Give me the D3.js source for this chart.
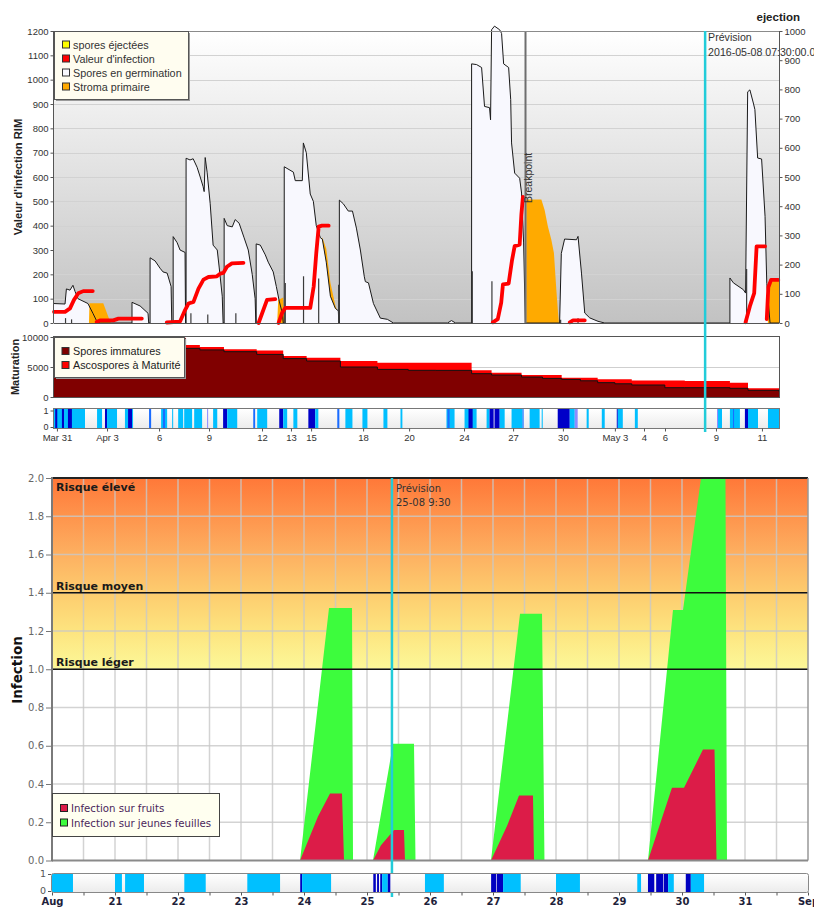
<!DOCTYPE html>
<html><head><meta charset="utf-8">
<script src="https://cdn.jsdelivr.net/npm/d3@7"></script>
<style>body{margin:0;background:#fff}svg{display:block}</style>
</head><body>
<svg id="chart" width="814" height="908"></svg>
<script>
// ================= DATA (top chart: days since Mar 31 00:00) =================
const topDomain = [-0.17, 41.93];
const topTickDays = [0, 2.91, 5.93, 8.83, 11.91, 13.59, 14.76, 17.78, 20.45, 23.64, 26.49, 29.38, 32.40, 34.09, 35.31, 38.27, 40.94];
const topTickLabels = ["Mar 31","Apr 3","6","9","12","13","15","18","20","24","27","30","May 3","4","6","9","11"];
const leftTicks = d3.range(0, 1201, 100);
const rightTicks = d3.range(0, 1001, 100);

const germination = [[-0.17,80],[0.47,78],[0.55,140],[0.76,135],[0.93,155],[1.05,130],[1.22,100],[1.80,80],[2.09,40],[2.33,5],[2.50,0],
[4.36,0],[4.36,85],[4.83,70],[5.29,40],[5.33,0],
[5.41,0],[5.41,268],[5.70,255],[5.99,225],[6.16,210],[6.40,205],[6.63,150],[6.67,0],
[6.75,0],[6.75,355],[6.98,330],[7.15,300],[7.44,290],[7.47,0],
[7.50,0],[7.50,677],[7.73,670],[7.91,675],[8.14,640],[8.32,600],[8.49,560],[8.55,540],[8.61,680],[8.72,620],[8.90,490],[9.07,320],[9.31,300],[9.42,230],[9.60,110],[9.65,0],
[9.71,0],[9.71,430],[9.89,400],[10.18,395],[10.35,425],[10.58,410],[10.87,350],[11.11,300],[11.34,200],[11.51,100],[11.55,0],
[11.57,0],[11.57,325],[11.81,320],[12.10,280],[12.27,250],[12.56,210],[12.74,150],[12.91,90],[13.09,40],[13.14,0],
[13.20,0],[13.20,642],[13.73,620],[13.84,585],[14.25,585],[14.31,740],[14.48,700],[14.71,530],[14.89,500],[15.06,400],[15.30,350],[15.41,345],[15.64,250],[15.88,110],[16.17,60],[16.34,50],[16.37,0],
[16.40,0],[16.40,505],[16.63,490],[16.92,460],[17.16,460],[17.39,390],[17.62,300],[17.85,190],[17.91,170],[18.09,165],[18.38,80],[18.78,20],[19.19,15],[19.54,0],
[22.68,0],[22.91,10],[23.15,0],
[24.08,0],[24.08,1065],[24.37,1062],[24.66,1050],[24.83,890],[25.12,885],[25.18,835],[25.24,1205],[25.41,1220],[25.71,1205],[25.82,1190],[25.94,1065],[26.23,1050],[26.35,918],[26.40,740],[26.58,616],[26.87,595],[26.98,534],[27.10,329],[27.20,0],
[29.19,0],[29.29,286],[29.48,345],[30.17,342],[30.26,356],[30.46,205],[30.65,41],[30.94,21],[31.42,7],[31.81,0],
[39.08,0],[39.08,185],[39.28,165],[39.86,137],[39.99,123],[40.11,950],[40.24,958],[40.44,904],[40.53,877],[40.69,678],[40.92,674],[41.12,438],[41.22,163],[41.41,0],[41.93,0]];

const valeurInfection = [[-0.17,46],[0.47,46],[0.76,60],[0.99,95],[1.24,122],[1.53,131],[2.08,131], null,
[2.31,4],[2.50,11],[3.27,11],[3.57,18],[4.93,18], null,
[6.38,2],[7.15,6],[7.44,53],[7.64,80],[7.93,87],[8.22,141],[8.51,178],[8.80,189],[9.29,192],[9.48,203],[9.67,206],[9.87,231],[10.16,245],[10.83,247], null,
[11.71,0],[12.20,95],[12.68,98], null,
[12.87,0],[13.07,41],[13.26,62],[14.71,62],[14.91,150],[15.06,287],[15.20,396],[15.39,400],[15.78,400], null,
[25.31,3],[25.60,16],[25.80,84],[25.90,159],[26.23,162],[26.42,255],[26.58,316],[26.87,322],[26.97,445],[27.06,518], null,
[29.78,3],[29.97,11],[30.65,11], null,
[39.99,3],[40.24,69],[40.49,123],[40.63,315],[41.12,315], null,
[41.22,16],[41.31,147],[41.47,177],[41.89,177]];

// [day, top, bottom]
const stromaPrimaire = [[1.86,0,0],[1.89,81,0],[2.69,81,0],[3.12,0,0], null,
[12.79,0,0],[12.85,95,0],[13.14,105,0],[13.20,0,0], null,
[15.41,352,345],[15.64,305,250],[15.88,165,110],[16.17,72,60],[16.25,55,52], null,
[27.26,0,0],[27.26,508,0],[28.13,508,0],[28.32,464,0],[28.51,397,0],[28.71,342,0],[28.86,288,0],[29.00,137,0],[29.10,41,0],[29.15,0,0], null,
[41.28,0,0],[41.40,170,0],[41.93,177,0]];

const sporesEjectees = [[0.50,20],[0.85,15],[7.78,40],[8.76,35],[10.39,40],[13.26,164],[14.32,192],[15.20,183],[16.36,157],[24.12,213],[25.26,172],[29.25,13],[30.26,20],[40.05,222]];

const breakpointDay = 27.21;
const previsionTopDay = 37.64;

const matDays   = [-0.17, 7.47, 8.3, 9.7, 11.6, 13.14, 14.5, 16.46, 18.61, 20.4, 22.0, 24.08, 25.24, 26.98, 28.2, 29.31, 30.4, 31.40, 32.4, 33.38, 35.3, 36.46, 39.08, 40.13, 41.93];
const matTotal  = [9880, 8660, 8330, 7950, 7770, 6830, 6550, 6000, 5720, 5720, 5720, 4440, 4050, 3660, 3660, 3220, 3220, 2940, 2940, 2770, 2770, 2660, 2390, 1440, 1440];
const matImmat  = [9700, 8110, 7850, 7550, 7100, 6400, 6000, 5000, 4600, 4450, 4440, 3890, 3660, 3330, 3100, 2940, 2700, 2390, 2200, 2000, 1550, 1550, 1450, 1110, 900];

// [start, end, level] level: 1 light, 2 medium, 3 dark, 4 violet
const wetTop = [[-0.17,1.63,1],[-0.10,0.02,3],[0.29,0.41,3],[0.64,0.87,3],
[2.33,2.62,1],[2.79,2.91,3],[2.91,3.49,1],[3.95,4.13,1],[4.13,4.36,3],[4.36,4.42,1],
[5.35,5.47,2],[6.05,6.40,1],[6.16,6.28,2],[6.69,6.75,1],[7.04,7.33,1],[7.39,7.85,1],[7.97,8.43,1],[8.72,8.78,4],
[9.07,9.31,1],[9.65,9.89,3],[9.89,10.47,1],[11.40,11.51,2],[11.63,12.21,1],[12.91,13.14,3],[13.14,13.37,1],
[13.73,13.96,1],[14.60,15.00,3],[15.00,15.18,1],[16.28,16.40,2],[16.75,17.16,1],[17.74,18.03,1],[18.96,19.19,1],[19.95,20.06,1],
[22.62,23.09,1],[22.68,22.80,2],[23.67,24.37,1],[23.90,24.14,3],[24.95,25.12,1],[25.12,25.36,3],[25.41,25.71,3],[25.71,26.00,1],
[26.40,27.04,1],[27.04,27.10,2],[27.45,28.03,1],[28.15,28.21,1],[29.08,29.78,3],[29.78,30.07,1],[30.07,30.24,4],
[30.76,30.88,1],[31.64,31.81,1],[32.51,32.57,3],[32.57,32.86,1],[33.56,33.73,1],[38.33,38.62,1],[38.33,38.39,4],
[39.08,39.66,1],[39.26,39.32,2],[39.95,40.13,3],[40.13,40.71,1],[41.29,41.93,1]];

// ================= DATA (bottom chart: days since Aug 20 00:00) =================
const botDomain = [0, 12];
const botTickLabels = ["Aug","21","22","23","24","25","26","27","28","29","30","31","Sep"];
const infTicks = d3.range(0, 2.01, 0.2);
const riskLevels = [1.0, 1.4];
const riskLabels = [["Risque élevé", 2.0], ["Risque moyen", 1.4], ["Risque léger", 1.0]];
const previsionBotDay = 5 + 9.5/24;

const jeunesFeuilles = [[3.937,0],[4.397,1.32],[4.762,1.32],[4.778,0],[5.095,0],[5.413,0.61],[5.746,0.61],[5.770,0],
[6.968,0],[7.429,1.29],[7.778,1.29],[7.817,0],[9.460,0],[9.857,1.31],[10.016,1.31],[10.302,2.0],[10.690,2.0],[10.714,0]];
const fruits = [[3.937,0],[4.222,0.23],[4.413,0.35],[4.603,0.35],[4.635,0],[5.095,0],[5.222,0.08],[5.429,0.16],[5.587,0.16],[5.603,0],
[6.968,0],[7.222,0.18],[7.413,0.34],[7.635,0.34],[7.651,0],[9.460,0],[9.841,0.38],[10.032,0.38],[10.333,0.58],[10.516,0.58],[10.548,0]];

const wetBot = [[0,0.333,1],[1.0,1.11,1],[1.16,1.46,1],[2.10,2.44,1],[3.10,3.62,1],[3.94,3.97,3],[3.97,4.43,1],
[5.10,5.14,3],[5.16,5.19,3],[5.21,5.24,3],[5.24,5.33,1],[5.33,5.37,3],[5.92,6.22,1],
[6.97,7.05,3],[7.06,7.16,3],[7.16,7.44,1],[8.0,8.38,1],[9.29,9.35,1],
[9.46,9.56,3],[9.59,9.70,3],[9.71,9.78,3],[9.78,9.87,1],[10.06,10.14,3],[10.14,10.35,1]];

// ================= DRAW =================
const svg = d3.select('#chart');
const defs = svg.append('defs');
const wetColor = d3.scaleOrdinal().domain([1,2,3,4]).range(['#00bfff','#1a6cff','#0000c8','#8c8cff']);
const F1 = '"Liberation Sans", Arial, sans-serif';
const F2 = '"DejaVu Sans", Verdana, sans-serif';
const intFmt = d3.format('d');

function styleAxis(g, font, size, color){
  g.selectAll('text').attr('font-family', font).attr('font-size', size).attr('fill', color);
  g.selectAll('line').attr('stroke', '#555');
  g.select('.domain').remove();
}

// ---------- TOP CHART ----------
const T = {l:54, r:779, t:31, b:323};
const xT = d3.scaleLinear().domain(topDomain).range([T.l, T.r]);
const yL = d3.scaleLinear().domain([0,1200]).range([T.b, T.t]);
const yR = d3.scaleLinear().domain([0,1000]).range([T.b, T.t]);

const gTop = defs.append('linearGradient').attr('id','gTop').attr('x1',0).attr('y1',0).attr('x2',0).attr('y2',1);
gTop.append('stop').attr('offset',0).attr('stop-color','#ffffff');
gTop.append('stop').attr('offset',1).attr('stop-color','#c2c2c2');
svg.append('rect').attr('x',T.l).attr('y',T.t).attr('width',T.r-T.l).attr('height',T.b-T.t).attr('fill','url(#gTop)');
svg.append('g').selectAll('line').data(leftTicks.slice(1)).join('line')
  .attr('x1',T.l).attr('x2',T.r).attr('y1',d=>Math.round(yL(d))+0.5).attr('y2',d=>Math.round(yL(d))+0.5)
  .attr('stroke','#d2d2d2');

const germArea = d3.area().x(d=>xT(d[0])).y0(yL(0)).y1(d=>yL(d[1]));
const germLine = d3.line().x(d=>xT(d[0])).y(d=>yL(d[1]));
svg.append('path').datum(germination).attr('d',germArea).attr('fill','#f8f8fe');
svg.append('path').datum(stromaPrimaire)
  .attr('d', d3.area().defined(d=>d).x(d=>xT(d[0])).y0(d=>yL(d[2])).y1(d=>yL(d[1])))
  .attr('fill','#ffaa00');
svg.append('path').datum(germination).attr('d',germLine).attr('fill','none').attr('stroke','#1a1a1a').attr('stroke-width',1);

svg.append('g').selectAll('line').data(sporesEjectees).join('line')
  .attr('x1',d=>xT(d[0])).attr('x2',d=>xT(d[0])).attr('y1',yL(0)).attr('y2',d=>yL(d[1]))
  .attr('stroke','#3a3a3a').attr('stroke-width',1.2);

svg.append('path').datum(valeurInfection)
  .attr('d', d3.line().defined(d=>d).x(d=>xT(d[0])).y(d=>yL(d[1])))
  .attr('fill','none').attr('stroke','#ff0000').attr('stroke-width',3.8)
  .attr('stroke-linejoin','round').attr('stroke-linecap','round');

// breakpoint
svg.append('line').attr('x1',xT(breakpointDay)).attr('x2',xT(breakpointDay)).attr('y1',T.t).attr('y2',T.b)
  .attr('stroke','#6e6e6e').attr('stroke-width',2);
svg.append('text').attr('transform',`translate(${xT(breakpointDay)+6},203) rotate(-90)`)
  .attr('font-family',F1).attr('font-size',10.5).attr('fill','#333').text('Breakpoint');

// frame
svg.append('line').attr('x1',T.l).attr('x2',T.r).attr('y1',T.t+0.5).attr('y2',T.t+0.5).attr('stroke','#8a8a8a');
svg.append('line').attr('x1',T.l).attr('x2',T.r).attr('y1',T.b+0.5).attr('y2',T.b+0.5).attr('stroke','#555');
svg.append('line').attr('x1',T.l-0.5).attr('x2',T.l-0.5).attr('y1',T.t).attr('y2',T.b).attr('stroke','#555');
svg.append('line').attr('x1',T.r+0.5).attr('x2',T.r+0.5).attr('y1',T.t).attr('y2',T.b).attr('stroke','#555');

const axL = svg.append('g').attr('transform',`translate(${T.l-0.5},0)`)
  .call(d3.axisLeft(yL).tickValues(leftTicks).tickFormat(intFmt).tickSize(3).tickPadding(2));
styleAxis(axL, F1, 9.5, '#333');
const axR = svg.append('g').attr('transform',`translate(${T.r+0.5},0)`)
  .call(d3.axisRight(yR).tickValues(rightTicks).tickFormat(intFmt).tickSize(3).tickPadding(2));
styleAxis(axR, F1, 9.5, '#333');

svg.append('text').attr('transform',`translate(22,${(T.t+T.b)/2}) rotate(-90)`).attr('text-anchor','middle')
  .attr('font-family',F1).attr('font-size',11.2).attr('font-weight','bold').attr('fill','#222').text("Valeur d'infection RIM");
svg.append('text').attr('x',800).attr('y',21).attr('text-anchor','end')
  .attr('font-family',F1).attr('font-size',11.5).attr('font-weight','bold').attr('fill','#222').text('ejection');

// legend top
const legTopItems = [["spores éjectées","#ffff00"],["Valeur d'infection","#ff0000"],["Spores en germination","#f8f8fe"],["Stroma primaire","#ffaa00"]];
svg.append('rect').attr('x',T.l+2).attr('y',T.t+2).attr('width',134).attr('height',68).attr('fill','#9a9a9a');
svg.append('rect').attr('x',T.l+0.5).attr('y',T.t+0.5).attr('width',134).attr('height',68).attr('fill','#fffdf0').attr('stroke','#555');
legTopItems.forEach((it,i)=>{
  const cy = 44.5 + i*14;
  svg.append('rect').attr('x',62.5).attr('y',cy-3.5).attr('width',7).attr('height',7).attr('fill',it[1]).attr('stroke','#333');
  svg.append('text').attr('x',73).attr('y',cy+4).attr('font-family',F1).attr('font-size',10.8).attr('fill','#333').text(it[0]);
});

// ---------- MATURATION ----------
const M = {t:337, b:397};
const yM = d3.scaleLinear().domain([0,10000]).range([M.b, M.t]);
const matData = matDays.map((d,i)=>({d, tot:matTotal[i], imm:matImmat[i]}));
svg.append('rect').attr('x',T.l).attr('y',M.t).attr('width',T.r-T.l).attr('height',M.b-M.t).attr('fill','#fff');
svg.append('line').attr('x1',T.l).attr('x2',T.r).attr('y1',yM(5000)+0.5).attr('y2',yM(5000)+0.5).attr('stroke','#cfcfcf');
svg.append('path').datum(matData).attr('d', d3.area().curve(d3.curveStepAfter).x(d=>xT(d.d)).y0(M.b).y1(d=>yM(d.tot))).attr('fill','#ff0000');
svg.append('path').datum(matData).attr('d', d3.area().curve(d3.curveStepAfter).x(d=>xT(d.d)).y0(M.b).y1(d=>yM(d.imm))).attr('fill','#800000');
svg.append('path').datum(matData).attr('d', d3.line().curve(d3.curveStepAfter).x(d=>xT(d.d)).y(d=>yM(d.imm))).attr('fill','none').attr('stroke','#111').attr('stroke-width',1);
svg.append('rect').attr('x',T.l-0.5).attr('y',M.t-0.5).attr('width',T.r-T.l+1).attr('height',M.b-M.t+1).attr('fill','none').attr('stroke','#555');
const axM = svg.append('g').attr('transform',`translate(${T.l-0.5},0)`)
  .call(d3.axisLeft(yM).tickValues([0,5000,10000]).tickFormat(intFmt).tickSize(3).tickPadding(2));
styleAxis(axM, F1, 9.5, '#333');
svg.append('text').attr('transform',`translate(19,${(M.t+M.b)/2}) rotate(-90)`).attr('text-anchor','middle')
  .attr('font-family',F1).attr('font-size',11).attr('font-weight','bold').attr('fill','#222').text('Maturation');
const legMatItems = [["Spores immatures","#800000"],["Ascospores à Maturité","#ff0000"]];
svg.append('rect').attr('x',T.l+2).attr('y',M.t+2).attr('width',130).attr('height',40).attr('fill','#9a9a9a');
svg.append('rect').attr('x',T.l+0.5).attr('y',M.t+0.5).attr('width',130).attr('height',40).attr('fill','#fffdf0').attr('stroke','#555');
legMatItems.forEach((it,i)=>{
  const cy = 351 + i*14;
  svg.append('rect').attr('x',62).attr('y',cy-3.5).attr('width',7).attr('height',7).attr('fill',it[1]).attr('stroke','#333');
  svg.append('text').attr('x',73).attr('y',cy+4).attr('font-family',F1).attr('font-size',10.8).attr('fill','#222').text(it[0]);
});

// ---------- TOP WETNESS STRIP ----------
const S = {t:409, b:428};
const gStrip = defs.append('linearGradient').attr('id','gStrip').attr('x1',0).attr('y1',0).attr('x2',0).attr('y2',1);
gStrip.append('stop').attr('offset',0).attr('stop-color','#ffffff');
gStrip.append('stop').attr('offset',1).attr('stop-color','#ececec');
svg.append('rect').attr('x',T.l).attr('y',S.t).attr('width',T.r-T.l).attr('height',S.b-S.t).attr('fill','url(#gStrip)');
svg.append('g').selectAll('rect').data(wetTop).join('rect')
  .attr('x',d=>xT(d[0])).attr('width',d=>Math.max(1,xT(d[1])-xT(d[0]))).attr('y',S.t).attr('height',S.b-S.t)
  .attr('fill',d=>wetColor(d[2]));
svg.append('rect').attr('x',T.l-0.5).attr('y',S.t-0.5).attr('width',T.r-T.l+1).attr('height',S.b-S.t+1).attr('fill','none').attr('stroke','#777');
const yS = d3.scaleLinear().domain([0,1]).range([S.b-1, S.t+1.5]);
const axS = svg.append('g').attr('transform',`translate(${T.l-0.5},0)`).call(d3.axisLeft(yS).tickValues([0,1]).tickFormat(intFmt).tickSize(3).tickPadding(2));
styleAxis(axS, F1, 9, '#333');
axS.selectAll('text').attr('dy','0.28em');
const axX = svg.append('g').attr('transform',`translate(0,${S.b+0.5})`)
  .call(d3.axisBottom(xT).tickValues(topTickDays).tickFormat((d,i)=>topTickLabels[i]).tickSize(3).tickPadding(3));
styleAxis(axX, F1, 9.5, '#333');

// prevision top
svg.append('line').attr('x1',xT(previsionTopDay)).attr('x2',xT(previsionTopDay)).attr('y1',T.t).attr('y2',432)
  .attr('stroke','#22ccd9').attr('stroke-width',2.5);
svg.append('text').attr('x',xT(previsionTopDay)+3).attr('y',41).attr('font-family',F1).attr('font-size',10.6).attr('fill','#333').text('Prévision');
svg.append('text').attr('x',xT(previsionTopDay)+3).attr('y',55.5).attr('font-family',F1).attr('font-size',10.6).attr('fill','#333').text('2016-05-08 07:30:00.0');

// ---------- BOTTOM CHART ----------
const B = {l:52, r:808, t:478, b:860.5};
const xB = d3.scaleLinear().domain(botDomain).range([B.l, B.r]);
const yB = d3.scaleLinear().domain([0,2]).range([B.b, B.t]);

const gRisk = defs.append('linearGradient').attr('id','gRisk').attr('x1',0).attr('y1',0).attr('x2',0).attr('y2',1);
[[0,'#ff7838'],[0.4,'#fdb061'],[0.6,'#fdcc6e'],[0.8,'#fde47f'],[1,'#fcf899']].forEach(s=>
  gRisk.append('stop').attr('offset',s[0]).attr('stop-color',s[1]));
svg.append('rect').attr('x',B.l).attr('y',B.t).attr('width',B.r-B.l).attr('height',B.b-B.t).attr('fill','#fff');
svg.append('rect').attr('x',B.l).attr('y',yB(2)).attr('width',B.r-B.l).attr('height',yB(1)-yB(2)).attr('fill','url(#gRisk)');

const gridB = svg.append('g').attr('stroke','rgba(200,200,200,0.8)').attr('stroke-width',1.5);
gridB.selectAll('line.v').data(d3.range(0.5, 12, 0.5)).join('line').attr('class','v')
  .attr('x1',d=>xB(d)).attr('x2',d=>xB(d)).attr('y1',B.t).attr('y2',B.b);
gridB.selectAll('line.h').data(infTicks.slice(1,-1)).join('line').attr('class','h')
  .attr('x1',B.l).attr('x2',B.r).attr('y1',d=>yB(d)).attr('y2',d=>yB(d));

defs.append('clipPath').attr('id','clipB').append('rect').attr('x',B.l).attr('y',B.t).attr('width',B.r-B.l).attr('height',B.b-B.t);
const infArea = d3.area().x(d=>xB(d[0])).y0(yB(0)).y1(d=>yB(d[1]));
svg.append('path').datum(jeunesFeuilles).attr('d',infArea).attr('fill','#3dfc3d').attr('clip-path','url(#clipB)');
svg.append('path').datum(fruits).attr('d',infArea).attr('fill','#dc1c48').attr('clip-path','url(#clipB)');

svg.append('g').selectAll('line').data(riskLevels).join('line')
  .attr('x1',B.l).attr('x2',B.r).attr('y1',d=>yB(d)).attr('y2',d=>yB(d)).attr('stroke','#111').attr('stroke-width',1.6);
svg.append('line').attr('x1',B.l).attr('x2',B.r).attr('y1',B.t).attr('y2',B.t).attr('stroke','#222').attr('stroke-width',2);
svg.append('line').attr('x1',B.r).attr('x2',B.r).attr('y1',B.t).attr('y2',B.b).attr('stroke','#999').attr('stroke-width',1.5);
svg.append('line').attr('x1',B.l).attr('x2',B.r).attr('y1',B.b).attr('y2',B.b).attr('stroke','#8a8a8a').attr('stroke-width',2);
svg.append('line').attr('x1',B.l).attr('x2',B.l).attr('y1',B.t-1).attr('y2',B.b+1).attr('stroke','#7a7a7a').attr('stroke-width',2);

svg.append('g').selectAll('text').data(riskLabels).join('text')
  .attr('x',B.l+4).attr('y',d=>d[1]===2.0 ? yB(d[1])+13 : yB(d[1])-3)
  .attr('font-family',F2).attr('font-size',11).attr('font-weight','bold').attr('fill','#1a1a1a').text(d=>d[0]);

const axB = svg.append('g').attr('transform',`translate(${B.l-1},0)`)
  .call(d3.axisLeft(yB).tickValues(infTicks).tickFormat(d3.format('.1f')).tickSize(5).tickPadding(2));
styleAxis(axB, F2, 10, '#666');
axB.selectAll('line').attr('stroke','#777');
svg.append('text').attr('transform',`translate(22,670) rotate(-90)`).attr('text-anchor','middle')
  .attr('font-family',F2).attr('font-size',13.5).attr('font-weight','bold').attr('fill','#111').text('Infection');

// prevision bottom
svg.append('line').attr('x1',xB(previsionBotDay)).attr('x2',xB(previsionBotDay)).attr('y1',B.t).attr('y2',897)
  .attr('stroke','#22ccd9').attr('stroke-width',2.5);
svg.append('text').attr('x',xB(previsionBotDay)+4).attr('y',492).attr('font-family',F2).attr('font-size',10).attr('fill','#333').text('Prévision');
svg.append('text').attr('x',xB(previsionBotDay)+4).attr('y',506).attr('font-family',F2).attr('font-size',10).attr('fill','#333').text('25-08 9:30');

// legend bottom
const legBotItems = [["Infection sur fruits","#dc1c48"],["Infection sur jeunes feuilles","#3dfc3d"]];
svg.append('rect').attr('x',B.l+0.5).attr('y',793.5).attr('width',167).attr('height',43).attr('fill','#fffff0').attr('stroke','#444');
legBotItems.forEach((it,i)=>{
  const cy = 808 + i*14.5;
  svg.append('rect').attr('x',60.5).attr('y',cy-3.5).attr('width',7).attr('height',7).attr('fill',it[1]).attr('stroke','#222');
  svg.append('text').attr('x',71).attr('y',cy+4).attr('font-family',F2).attr('font-size',10.2).attr('fill','#4a1f5a').text(it[0]);
});

// bottom wetness strip
const SB = {t:874, b:892};
svg.append('rect').attr('x',B.l).attr('y',SB.t).attr('width',B.r-B.l).attr('height',SB.b-SB.t).attr('fill','url(#gStrip)');
svg.append('g').selectAll('rect').data(wetBot).join('rect')
  .attr('x',d=>xB(d[0])).attr('width',d=>Math.max(1,xB(d[1])-xB(d[0]))).attr('y',SB.t).attr('height',SB.b-SB.t)
  .attr('fill',d=>d[2]===3 ? '#0000c0' : '#00c0ff');
svg.append('rect').attr('x',B.l-0.5).attr('y',SB.t-0.5).attr('width',B.r-B.l+1).attr('height',SB.b-SB.t+1).attr('rx',2)
  .attr('fill','none').attr('stroke','#888');
const ySB = d3.scaleLinear().domain([0,1]).range([SB.b-1, SB.t]);
const axSB = svg.append('g').attr('transform',`translate(${B.l-1},0)`).call(d3.axisLeft(ySB).tickValues([0,1]).tickFormat(intFmt).tickSize(3).tickPadding(2));
styleAxis(axSB, F2, 9.5, '#555');
axSB.selectAll('text').attr('dy','0.25em');
const axXB = svg.append('g').attr('transform',`translate(0,${SB.b+0.5})`)
  .call(d3.axisBottom(xB).tickValues(d3.range(0, 12.01, 0.5)).tickFormat(d=>Number.isInteger(d)? botTickLabels[d] : '').tickSize(3).tickPadding(2.5));
styleAxis(axXB, F2, 10, '#1e1e3a');
axXB.selectAll('text').attr('font-weight','bold');
</script>
</body></html>
